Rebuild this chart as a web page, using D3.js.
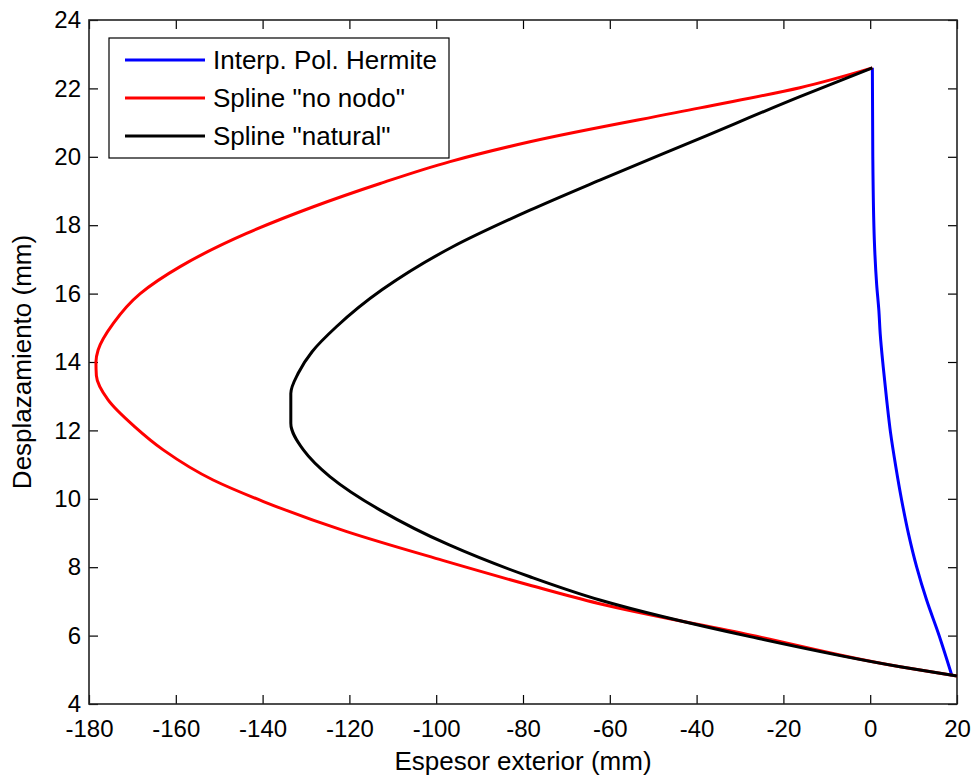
<!DOCTYPE html>
<head>
    <meta charset="utf-8">
    <style>
        body{
            margin:0;
            background:#fff;
        }
        svg{
            display:block;
        }
        .axis text, .lbl, .legend text{
            font-family: 'Liberation Sans', Arial, sans-serif;
            fill:#000;
        }
        .axis text{
            font-size: 24px;
        }
        .lbl{
            font-size: 26px;
        }
        .legend text{
            font-size: 26px;
        }
        .axis .domain{
            display:none;
        }
        .axis line{
            stroke:#000;
            stroke-width:1.2px;
        }
        .frame{
            fill:none;
            stroke:#222;
            stroke-width:1.6px;
        }
        .curve{
            fill:none;
            stroke-width:3px;
            stroke-linejoin:round;
        }
    </style>
</head>
<body>
    <div id="chart"></div>
    <script src="https://d3js.org/d3.v7.min.js"></script>
    <script>
        // values, each curve ordered by rising y
        var hermiteX = [18.85, 15.7, 13.0, 10.7, 8.8, 7.25, 5.9, 4.7, 3.8, 3.0, 2.3, 2.0, 1.5, 0.95, 0.6, 0.5];
        var hermiteY = [4.82, 6.07, 7.04, 8.01, 8.99, 9.96, 10.94, 11.92, 12.89, 13.86, 14.84, 15.5, 16.25, 17.57, 20.0, 22.6];

        var noNodoX = [20, 6.9, -27.7, -62.6, -78.6, -98.5, -120.6, -139.8, -151.4, -162.9, -169.5, -175.6, -178.3, -178.4, -177.9, -174.4, -168.2, -159, -143.7, -128.3, -112.9, -96.8, -78.4, -39.2, -16.2, 0.5];
        var noNodoY = [4.82, 5.09, 6.02, 6.94, 7.48, 8.2, 9.04, 9.92, 10.55, 11.43, 12.11, 12.89, 13.6, 14.0, 14.35, 15.13, 16.0, 16.79, 17.76, 18.54, 19.22, 19.86, 20.44, 21.43, 22.02, 22.6];

        var naturalX = [20, 6.9, -27.7, -62.3, -78.4, -97, -112.9, -124.5, -130.6, -133.5, -133.5, -131.8, -128.6, -123.0, -112.5, -96.2, -78.4, -62.3, -39.2, -16.2, 0.5];
        var naturalY = [4.82, 5.09, 5.97, 7.04, 7.72, 8.65, 9.67, 10.65, 11.43, 12.21, 13.08, 13.67, 14.3, 15.03, 16.11, 17.37, 18.44, 19.32, 20.54, 21.76, 22.6];

        var xTicks = [-180, -160, -140, -120, -100, -80, -60, -40, -20, 0, 20];
        var yTicks = [4, 6, 8, 10, 12, 14, 16, 18, 20, 22, 24];

        var seriesNames = ["Interp. Pol. Hermite", "Spline \"no nodo\"", "Spline \"natural\""];
        var seriesColors = ["#0000ff", "#ff0000", "#000000"];

        var W = 973, H = 776;
        var margin = {top: 20, right: 16, bottom: 72, left: 89};
        var width = W - margin.left - margin.right,
            height = H - margin.top - margin.bottom;

        var svg = d3.select("#chart").append("svg")
            .attr("width", W)
            .attr("height", H);

        var g = svg.append("g")
            .attr("transform", "translate(" + margin.left + "," + margin.top + ")");

        var x = d3.scaleLinear().domain([-180, 20]).range([0, width]);
        var y = d3.scaleLinear().domain([4, 24]).range([height, 0]);

        // plain hyphen like the original labels
        var plain = function(d) { return String(d); };

        // inward ticks on all four sides
        g.append("g")
            .attr("class", "axis")
            .attr("transform", "translate(0," + height + ")")
            .call(d3.axisBottom(x).tickValues(xTicks).tickSize(-9).tickPadding(16).tickFormat(plain));

        g.append("g")
            .attr("class", "axis")
            .call(d3.axisTop(x).tickValues(xTicks).tickSize(-9).tickFormat(""));

        g.append("g")
            .attr("class", "axis")
            .call(d3.axisLeft(y).tickValues(yTicks).tickSize(-9).tickPadding(8).tickFormat(plain));

        g.append("g")
            .attr("class", "axis")
            .attr("transform", "translate(" + width + ",0)")
            .call(d3.axisRight(y).tickValues(yTicks).tickSize(-9).tickFormat(""));

        g.append("rect")
            .attr("class", "frame")
            .attr("width", width)
            .attr("height", height);

        var line = d3.line()
            .x(function(d) { return x(d[0]); })
            .y(function(d) { return y(d[1]); })
            .curve(d3.curveMonotoneY);

        var series = [
            d3.zip(hermiteX, hermiteY),
            d3.zip(noNodoX, noNodoY),
            d3.zip(naturalX, naturalY)
        ];

        g.selectAll(".curve")
            .data(series)
            .enter().append("path")
            .attr("class", "curve")
            .attr("stroke", function(d, i) { return seriesColors[i]; })
            .attr("d", line);

        // axis labels
        svg.append("text")
            .attr("class", "lbl")
            .attr("x", margin.left + width / 2)
            .attr("y", 770)
            .attr("text-anchor", "middle")
            .text("Espesor exterior (mm)");

        svg.append("text")
            .attr("class", "lbl")
            .attr("transform", "translate(31," + (margin.top + height / 2) + ") rotate(-90)")
            .attr("text-anchor", "middle")
            .text("Desplazamiento (mm)");

        // legend
        var legend = svg.append("g")
            .attr("class", "legend")
            .attr("transform", "translate(109,38)");

        legend.append("rect")
            .attr("width", 340)
            .attr("height", 120)
            .attr("fill", "#fff")
            .attr("stroke", "#000")
            .attr("stroke-width", 1.2);

        var item = legend.selectAll(".item")
            .data(seriesNames)
            .enter().append("g")
            .attr("class", "item")
            .attr("transform", function(d, i) { return "translate(0," + (22 + i * 38) + ")"; });

        item.append("line")
            .attr("x1", 16)
            .attr("x2", 96)
            .attr("stroke", function(d, i) { return seriesColors[i]; })
            .attr("stroke-width", 3);

        item.append("text")
            .attr("x", 104)
            .attr("dy", "0.35em")
            .text(function(d) { return d; });
    </script>
</body>
